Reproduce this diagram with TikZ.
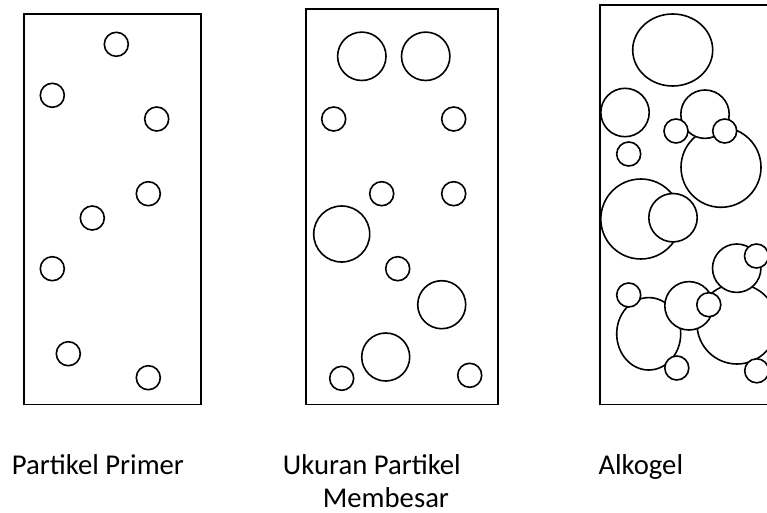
\documentclass[tikz,border=0pt]{standalone}
\usepackage{fontspec}
\setmainfont{Carlito}
\tikzset{
  panel/.style={draw=black, line width=1.7pt},
  grain/.style={draw=black, fill=white, line width=1.6pt},
  caption/.style={anchor=base west, inner sep=0pt, font=\fontsize{28.7pt}{34pt}\selectfont}
}
\begin{document}
\begin{tikzpicture}[x=1pt, y=-1pt]
\useasboundingbox (0,0) rectangle (767,513);
\clip (0,0) rectangle (767,513);
% ---------- Panel 1: Partikel Primer ----------
\draw[panel] (24,14) rectangle (200.7,404.5);
\foreach \cx/\cy in {116.3/44.3, 52.3/95.3, 156.7/119, 148.3/193.7, 92.3/218, 52.3/268.7, 68.3/353.7, 148.3/377.7}
  \draw[grain] (\cx,\cy) circle[radius=12];
% ---------- Panel 2: Ukuran Partikel Membesar ----------
\draw[panel] (305.7,9) rectangle (498,404.5);
\foreach \cx/\cy/\r in {361.8/56.3/24.2, 425.7/56.3/24.2, 333.7/119/12, 453.7/119/12, 381.7/193.7/12, 453.7/193.7/12,
  341.7/234/28, 397.7/268.7/12, 441.7/304.7/24, 385.7/357/24, 341.7/378.3/12, 469.7/375.3/12}
  \draw[grain] (\cx,\cy) circle[radius=\r];
% ---------- Panel 3: Alkogel ----------
\draw[panel] (600.3,4.7) rectangle (790,404.5);
% large
\draw[grain] (672.7,50) ellipse[x radius=40, y radius=36];
\draw[grain] (721,167.3) circle[radius=40];
\draw[grain] (640.8,219) circle[radius=40];
\draw[grain] (737,324) circle[radius=40];
\draw[grain] (648.7,333.8) ellipse[x radius=32, y radius=36.2];
% medium
\foreach \cx/\cy in {625/112.5, 705/114.2, 673/217.7, 736.7/268.2, 689/305.8}
  \draw[grain] (\cx,\cy) circle[radius=24.2];
% small
\foreach \cx/\cy in {676/131, 724.7/131, 628.7/154, 756.5/256, 628.7/295, 708.8/304.7, 676.8/368, 756.7/370.8}
  \draw[grain] (\cx,\cy) circle[radius=12];
% ---------- captions ----------
\node[caption] (cap1) at (11.7,474) {Partikel Primer};
\node[caption] (cap2a) at (282.7,474) {Ukuran Partikel};
\node[caption] (cap2b) at (322.7,507) {Membesar};
\node[caption] (cap3) at (598.3,474) {Alkogel};
\end{tikzpicture}
\end{document}
